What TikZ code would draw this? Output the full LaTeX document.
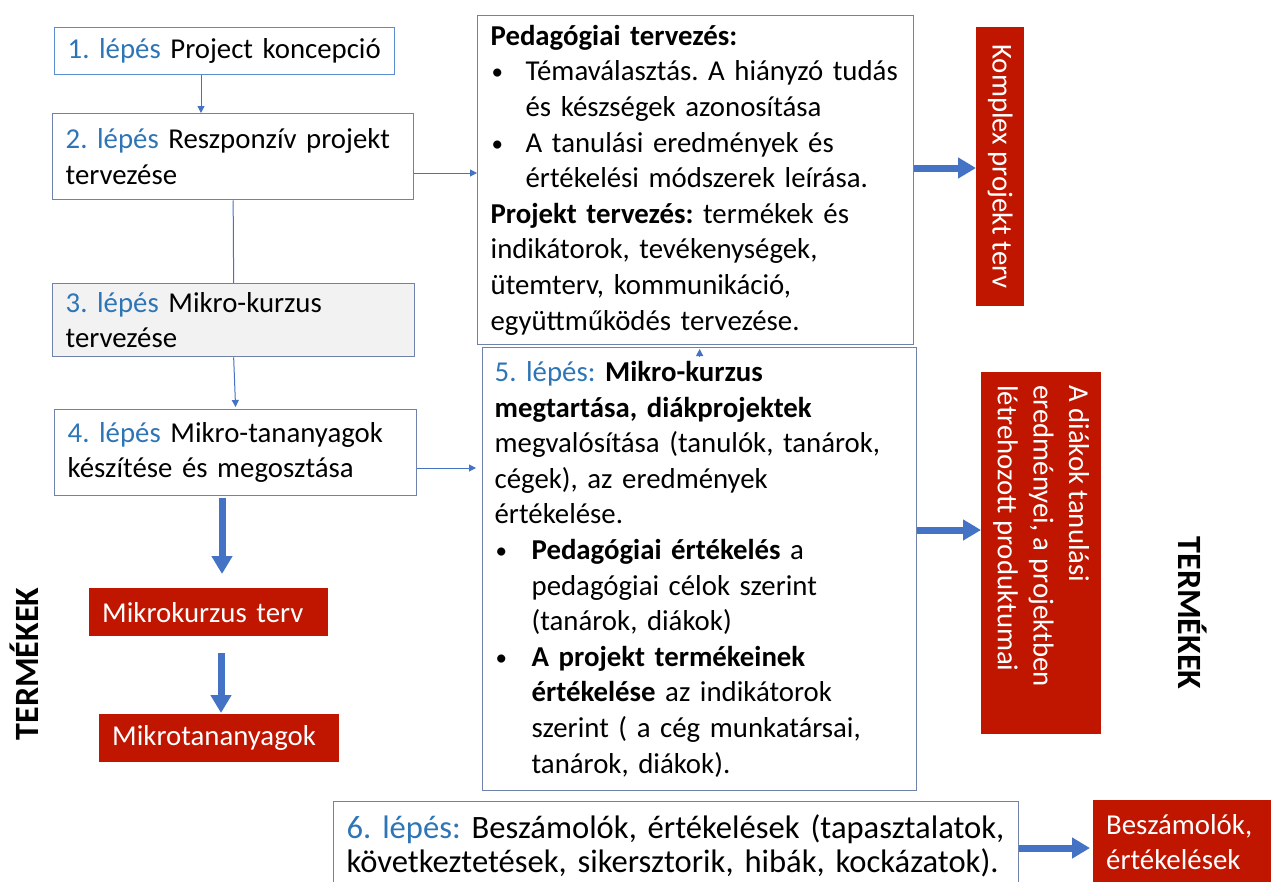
\documentclass[tikz,border=0pt]{standalone}
\usepackage{fontspec}
\setmainfont{Carlito}
\usetikzlibrary{arrows.meta,calc}
\definecolor{stepblue}{RGB}{46,117,182}
\definecolor{boxline}{RGB}{112,130,170}
\definecolor{boxlineA}{RGB}{91,140,210}
\definecolor{arrblue}{RGB}{68,114,196}
\definecolor{redfill}{RGB}{192,22,0}
\definecolor{greyfill}{RGB}{242,242,242}
\newcommand{\stp}[1]{\textcolor{stepblue}{#1}}
\newcommand{\bul}[1]{\makebox[#1][l]{\hspace*{1pt}\raisebox{1pt}{\scalebox{0.8}{\textbullet}}}}
\newcommand{\oneline}[1]{\mbox{#1}}
\frenchspacing
\begin{document}
\begin{tikzpicture}[x=1pt,y=-1pt,
  every node/.style={font=\fontsize{28.8}{35.6}\selectfont\frenchspacing},
  box/.style={draw=boxline, line width=1.3pt, anchor=north west, align=left, inner xsep=13pt, inner ysep=0pt},
  redbox/.style={fill=redfill, text=white, anchor=north west, align=left, inner xsep=13pt, inner ysep=0pt},
  thinarr/.style={draw=arrblue, line width=1pt, -{Triangle[width=7pt,length=7pt]}},
  thinline/.style={draw=arrblue, line width=1pt},
  thickarr/.style={draw=arrblue, line width=7pt, -{Triangle[width=20pt,length=18pt]}},
  sidelabel/.style={font=\fontsize{34}{40}\selectfont\bfseries}
]
\useasboundingbox (0,0) rectangle (1271,881);

\node[box, draw=boxlineA, minimum width=340, minimum height=47, text width=314] (b1) at (54,27) {\oneline{\stp{1. lépés} Project koncepció}};
\node[box, minimum width=361, minimum height=86, text width=335] (b2) at (52,113) {\oneline{\stp{2. lépés} Reszponzív projekt}\\tervezése};
\node[box, fill=greyfill, minimum width=362, minimum height=73, text width=336] (b3) at (52,283) {\oneline{\stp{3. lépés} Mikro-kurzus}\\tervezése};
\node[box, minimum width=362, minimum height=86, text width=336] (b4) at (54,409) {\oneline{\stp{4. lépés} Mikro-tananyagok}\\\oneline{készítése és megosztása}};

\node[box, minimum width=436, minimum height=329, text width=410] (ped) at (477,15) {%
\oneline{\textbf{Pedagógiai tervezés:}}\\
\bul{35pt}\oneline{Témaválasztás. A hiányzó tudás}\\
\hspace*{35pt}\oneline{és készségek azonosítása}\\
\bul{35pt}\oneline{A tanulási eredmények és}\\
\hspace*{35pt}\oneline{értékelési módszerek leírása.}\\
\oneline{\textbf{Projekt tervezés:} termékek és}\\
\oneline{indikátorok, tevékenységek,}\\
\oneline{ütemterv, kommunikáció,}\\
\oneline{együttműködés tervezése.}};

\node[box, minimum width=434, minimum height=443, text width=410, inner xsep=12pt] (b5) at (482,347) {%
\oneline{\stp{5. lépés:} \textbf{Mikro-kurzus}}\\
\oneline{\textbf{megtartása, diákprojektek}}\\
\oneline{megvalósítása (tanulók, tanárok,}\\
\oneline{cégek), az eredmények}\\
\oneline{értékelése.}\\
\bul{37pt}\oneline{\textbf{Pedagógiai értékelés} a}\\
\hspace*{37pt}\oneline{pedagógiai célok szerint}\\
\hspace*{37pt}\oneline{(tanárok, diákok)}\\
\bul{37pt}\oneline{\textbf{A projekt termékeinek}}\\
\hspace*{37pt}\oneline{\textbf{értékelése} az indikátorok}\\
\hspace*{37pt}\oneline{szerint ( a cég munkatársai,}\\
\hspace*{37pt}\oneline{tanárok, diákok).}};

\node[box, minimum width=685, minimum height=88, text width=659, font=\fontsize{32.6}{34.5}\selectfont\frenchspacing] (b6) at (333,801) {%
\oneline{\stp{6. lépés:} Beszámolók, értékelések (tapasztalatok,}\\
\oneline{következtetések, sikersztorik, hibák, kockázatok).}};

\node[redbox, minimum width=48, minimum height=279, inner xsep=0pt, align=center] (kp) at (976,27) {\rotatebox{-90}{Komplex projekt terv}};
\node[redbox, minimum width=120, minimum height=362, inner xsep=0pt, align=center] (r2) at (981,372) {\rotatebox{-90}{\parbox{336pt}{\raggedright A diákok tanulási\\eredményei, a projektben\\létrehozott produktumai}}};
\node[redbox, minimum width=239, minimum height=48, text width=213] (mk) at (89,588) {Mikrokurzus terv};
\node[redbox, minimum width=240, minimum height=48, text width=214] (mt) at (99,714) {Mikrotananyagok};
\node[redbox, minimum width=190, minimum height=84, text width=164, inner xsep=12pt] (bz) at (1093,800) {Beszámolók,\\értékelések};

\node[sidelabel, rotate=90] (tl) at (24,664) {TERMÉKEK};
\node[sidelabel, rotate=-90] (tr) at (1193,613) {TERMÉKEK};

\coordinate (ya) at (0,173);
\coordinate (yb) at (0,468);
\coordinate (yc) at (0,168);
\coordinate (yd) at (0,530);
\coordinate (ye) at (0,848);
\coordinate (xa) at (201,0);
\coordinate (xb) at (222,0);
\coordinate (xc) at (221,0);

\draw[thinarr] (b1.south -| xa) -- (b2.north -| xa);
\draw[thinline] (b2.south) -- (b3.north);
\draw[thinarr, shorten >=2pt] (b3.south) -- (b4.north);
\draw[thinarr] (b2.east |- ya) -- (ped.west |- ya);
\draw[thinarr, shorten >=6pt] (b4.east |- yb) -- (b5.west |- yb);
\draw[thinarr] ([yshift=-9pt]b5.north) -- ([yshift=-2pt]b5.north);

\draw[thickarr] (ped.east |- yc) -- (kp.west |- yc);
\draw[thickarr] (b5.east |- yd) -- (r2.west |- yd);
\draw[thickarr, shorten <=2pt, shorten >=14pt] (b4.south -| xb) -- (mk.north -| xb);
\draw[thickarr, shorten <=17pt, shorten >=1pt] (mk.south -| xc) -- (mt.north -| xc);
\draw[thickarr, shorten >=3pt] (b6.east |- ye) -- (bz.west |- ye);
\end{tikzpicture}
\end{document}
